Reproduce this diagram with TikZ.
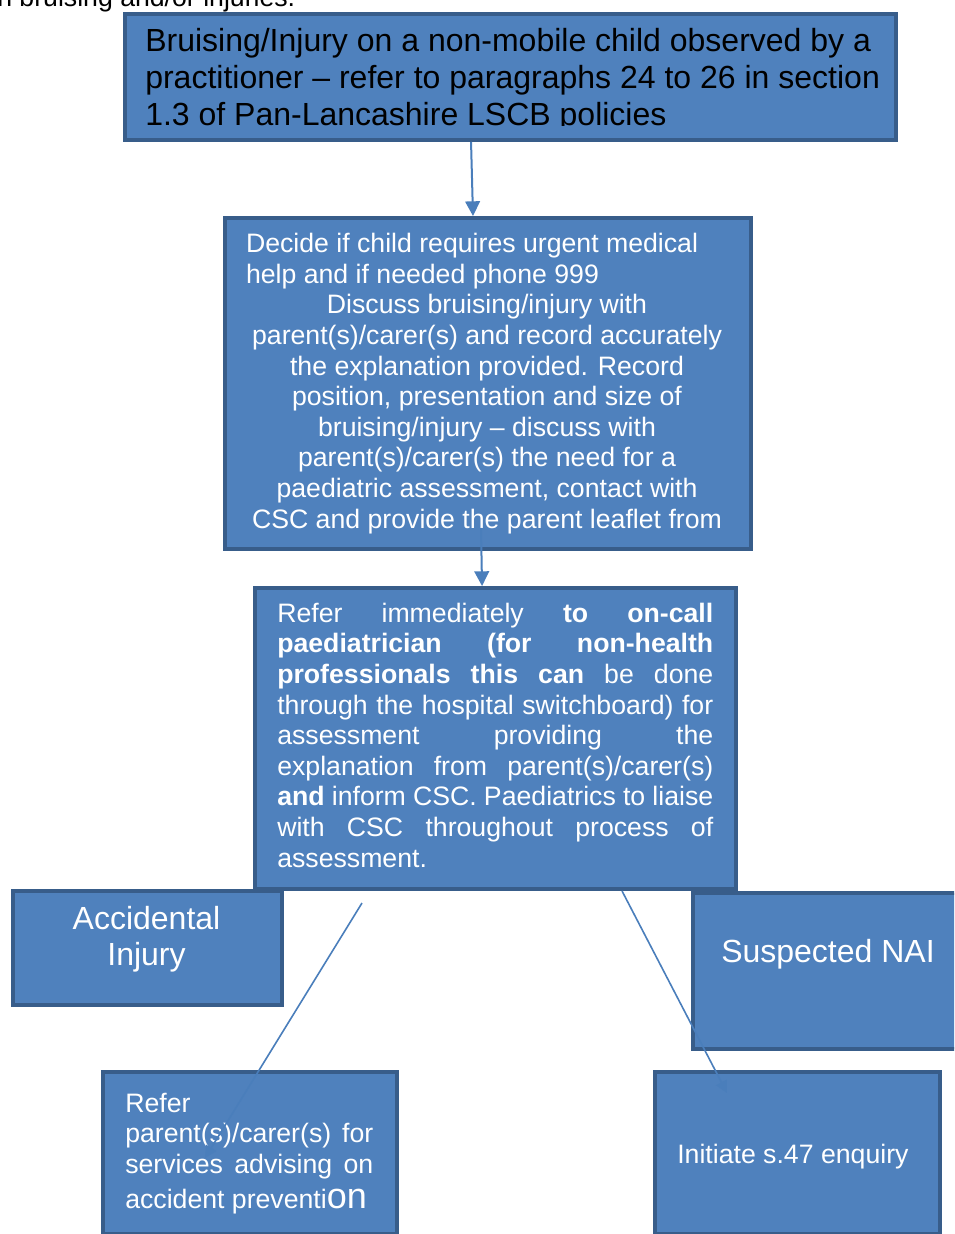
\documentclass[tikz,border=0pt]{standalone}
\usepackage{fontspec}
\setmainfont{Liberation Sans}
\usetikzlibrary{arrows.meta, positioning}

\definecolor{boxfill}{RGB}{79,129,189}
\definecolor{boxedge}{RGB}{56,93,138}
\definecolor{linkblue}{RGB}{74,126,187}

\begin{document}
\begin{tikzpicture}[
  x=0.75pt, y=-0.75pt,
  flow/.style = {draw=boxedge, fill=boxfill, line width=3pt,
                 anchor=north west, inner sep=0pt},
  txt/.style  = {text=white, inner sep=0pt, anchor=base west,
                 font=\fontsize{20}{22.95}\selectfont},
  big/.style  = {font=\fontsize{24}{27.75}\selectfont},
  arr/.style  = {-{Triangle[length=11pt, width=11pt]}, draw=linkblue, line width=1.5pt},
  link/.style = {-{Triangle[length=9pt, width=9pt]}, draw=linkblue, line width=1.2pt},
]
\clip (0,0) rectangle (954,1234);

% text cut off at the top of the page
\node[txt, text=black] (toptext) at (-3,7) {n bruising and/or injuries.};

% Row 1 - observation (text placed by its last baseline)
\node[flow, minimum width=578.25pt, minimum height=94.5pt] (hdr) at (123,12) {};
\begin{scope}
  \clip (126,14) rectangle (893,126);
  \node[txt, big, text=black, align=left] (hdrtext) at (145,126)
    {Bruising/Injury on a non-mobile child observed by a\\
     practitioner -- refer to paragraphs 24 to 26 in section\\
     1.3 of Pan-Lancashire LSCB policies};
\end{scope}

% Row 2 - decide / discuss
\node[flow, minimum width=394.5pt, minimum height=248.25pt] (decide) at (223,216) {};
\node[txt, anchor=base, align=center] (decidetext) at (487,528)
  {\makebox[361.5pt][l]{Decide if child requires urgent medical}\\
   \makebox[361.5pt][l]{help and if needed phone 999}\\
   Discuss bruising/injury with\\
   parent(s)/carer(s) and record accurately\\
   the explanation provided. Record\\
   position, presentation and size of\\
   bruising/injury -- discuss with\\
   parent(s)/carer(s) the need for a\\
   paediatric assessment, contact with\\
   CSC and provide the parent leaflet from};

% Row 3 - refer to paediatrician
\node[flow, minimum width=360.75pt, minimum height=225.75pt] (refer) at (253,586) {};
\node[txt, align=left] (refertext) at (277,867)
  {\makebox[327pt][s]{Refer immediately \textbf{to on-call}}\\
   \makebox[327pt][s]{\textbf{paediatrician (for non-health}}\\
   \makebox[327pt][s]{\textbf{professionals this can} be done}\\
   \makebox[327pt][s]{through the hospital switchboard) for}\\
   \makebox[327pt][s]{assessment providing the}\\
   \makebox[327pt][s]{explanation from parent(s)/carer(s)}\\
   \makebox[327pt][s]{\textbf{and} inform CSC. Paediatrics to liaise}\\
   \makebox[327pt][s]{with CSC throughout process of}\\
   assessment.};

% Row 4 - outcomes
\node[flow, minimum width=201.75pt, minimum height=85.5pt] (accident) at (11,889) {};
\node[txt, anchor=base, align=center, font=\fontsize{24}{27}\selectfont] (accidenttext) at (146.5,965)
  {Accidental\\Injury};

\node[flow, minimum width=225pt, minimum height=117pt] (nai) at (691,891) {};
\node[txt, big] (naitext) at (721,962) {Suspected NAI};

% Row 5 - actions
\node[flow, minimum width=220.5pt, minimum height=121.5pt] (advise) at (101,1070) {};
\node[txt, align=left] (advisetext) at (125,1208)
  {Refer\\
   \makebox[186pt][s]{parent(s)/carer(s) for}\\
   \makebox[186pt][s]{services advising on}\\[3pt]
   accident preventi{\fontsize{27}{30}\selectfont on}};

\node[flow, minimum width=213.75pt, minimum height=121.5pt] (enquiry) at (653,1070) {};
\node[txt] (enquirytext) at (677,1163) {Initiate s.47 enquiry};

% Arrows
\coordinate (dstart) at (481,528);
\coordinate (lstart) at (362,903);
\coordinate (lend)   at (205,1158);
\coordinate (rend)   at (727,1093);
\draw[arr]  ([xshift=-29.6pt]hdr.south) -- ([xshift=-11.25pt]decide.north);
\draw[arr]  (dstart) -- ([xshift=-10.1pt]refer.north);
\draw[link] (lstart) -- (lend);
\draw[link] ([xshift=94.9pt]refer.south) -- (rend);
\end{tikzpicture}
\end{document}
